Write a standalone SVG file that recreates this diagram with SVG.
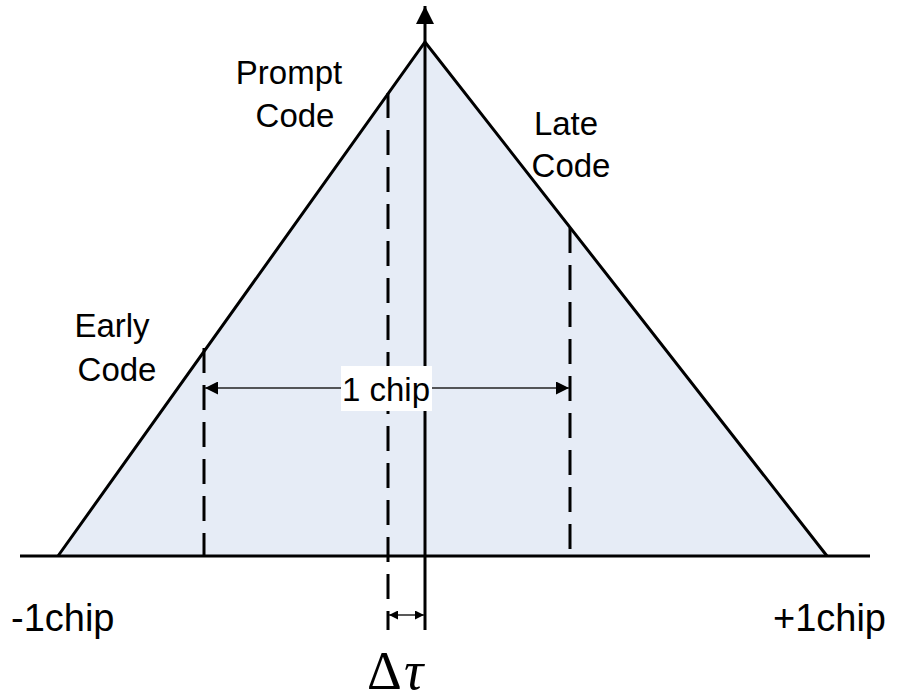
<svg xmlns="http://www.w3.org/2000/svg" width="897" height="695" viewBox="0 0 897 695">
<style>
.lbl{font-family:"Liberation Sans",Arial,sans-serif;font-size:33px;fill:#000;text-anchor:middle}
.big{font-family:"Liberation Sans",Arial,sans-serif;font-size:38px;fill:#000}
.solid{stroke:#000;stroke-width:3;fill:none}
.dash{stroke:#000;stroke-width:3;fill:none;stroke-dasharray:25 12}
.dim{stroke:#222;stroke-width:1.3;fill:none}
.serif{font-family:"Liberation Serif","Times New Roman",serif;font-size:54px;fill:#000}
</style>
<defs>
<marker id="ah" viewBox="0 0 10 10" refX="10" refY="5" markerWidth="14" markerHeight="13" markerUnits="userSpaceOnUse" orient="auto-start-reverse"><path d="M0,0 L10,5 L0,10 Z" fill="#000"/></marker>
<marker id="ahs" viewBox="0 0 10 10" refX="10" refY="5" markerWidth="11" markerHeight="9" markerUnits="userSpaceOnUse" orient="auto-start-reverse"><path d="M0,0 L10,5 L0,10 Z" fill="#000"/></marker>
<marker id="axis" viewBox="0 0 10 10" refX="10" refY="5" markerWidth="20" markerHeight="18" markerUnits="userSpaceOnUse" orient="auto"><path d="M0,0 L10,5 L0,10 Z" fill="#000"/></marker>
</defs>
<g id="triangle">
<polygon points="58,556 425,42 827,556" fill="#E6ECF6" stroke="none"/>
<polyline points="58,556 425,42 827,556" class="solid" stroke-linejoin="miter"/>
</g>
<g id="connectors">
<line x1="20" y1="556" x2="870" y2="556" class="solid"/>
<line x1="425" y1="630" x2="425" y2="6" class="solid" marker-end="url(#axis)"/>
<line x1="204" y1="348" x2="204" y2="556" class="dash"/>
<line x1="388" y1="93" x2="388" y2="630" class="dash"/>
<line x1="570" y1="228" x2="570" y2="556" class="dash"/>
<line x1="205" y1="388" x2="569" y2="388" class="dim" marker-start="url(#ah)" marker-end="url(#ah)"/>
<line x1="389" y1="615" x2="424" y2="615" class="dim" marker-start="url(#ahs)" marker-end="url(#ahs)"/>
</g>
<g id="label-1chip">
<rect x="341" y="366" width="91" height="45" fill="#fff"/>
<text x="386" y="401" class="lbl">1 chip</text>
</g>
<g id="prompt">
<text x="289" y="84" class="lbl">Prompt</text>
<text x="295" y="127" class="lbl">Code</text>
</g>
<g id="late">
<text x="566" y="135" class="lbl">Late</text>
<text x="571" y="177" class="lbl">Code</text>
</g>
<g id="early">
<text x="112" y="337" class="lbl">Early</text>
<text x="117" y="381" class="lbl">Code</text>
</g>
<g id="ticks">
<text x="11" y="631" class="big">-1chip</text>
<text x="886" y="631" class="big" text-anchor="end">+1chip</text>
</g>
<g id="delta-tau">
<text x="367" y="689" class="serif">Δ</text>
<text x="404" y="689" class="serif" font-style="italic">τ</text>
</g>
</svg>
